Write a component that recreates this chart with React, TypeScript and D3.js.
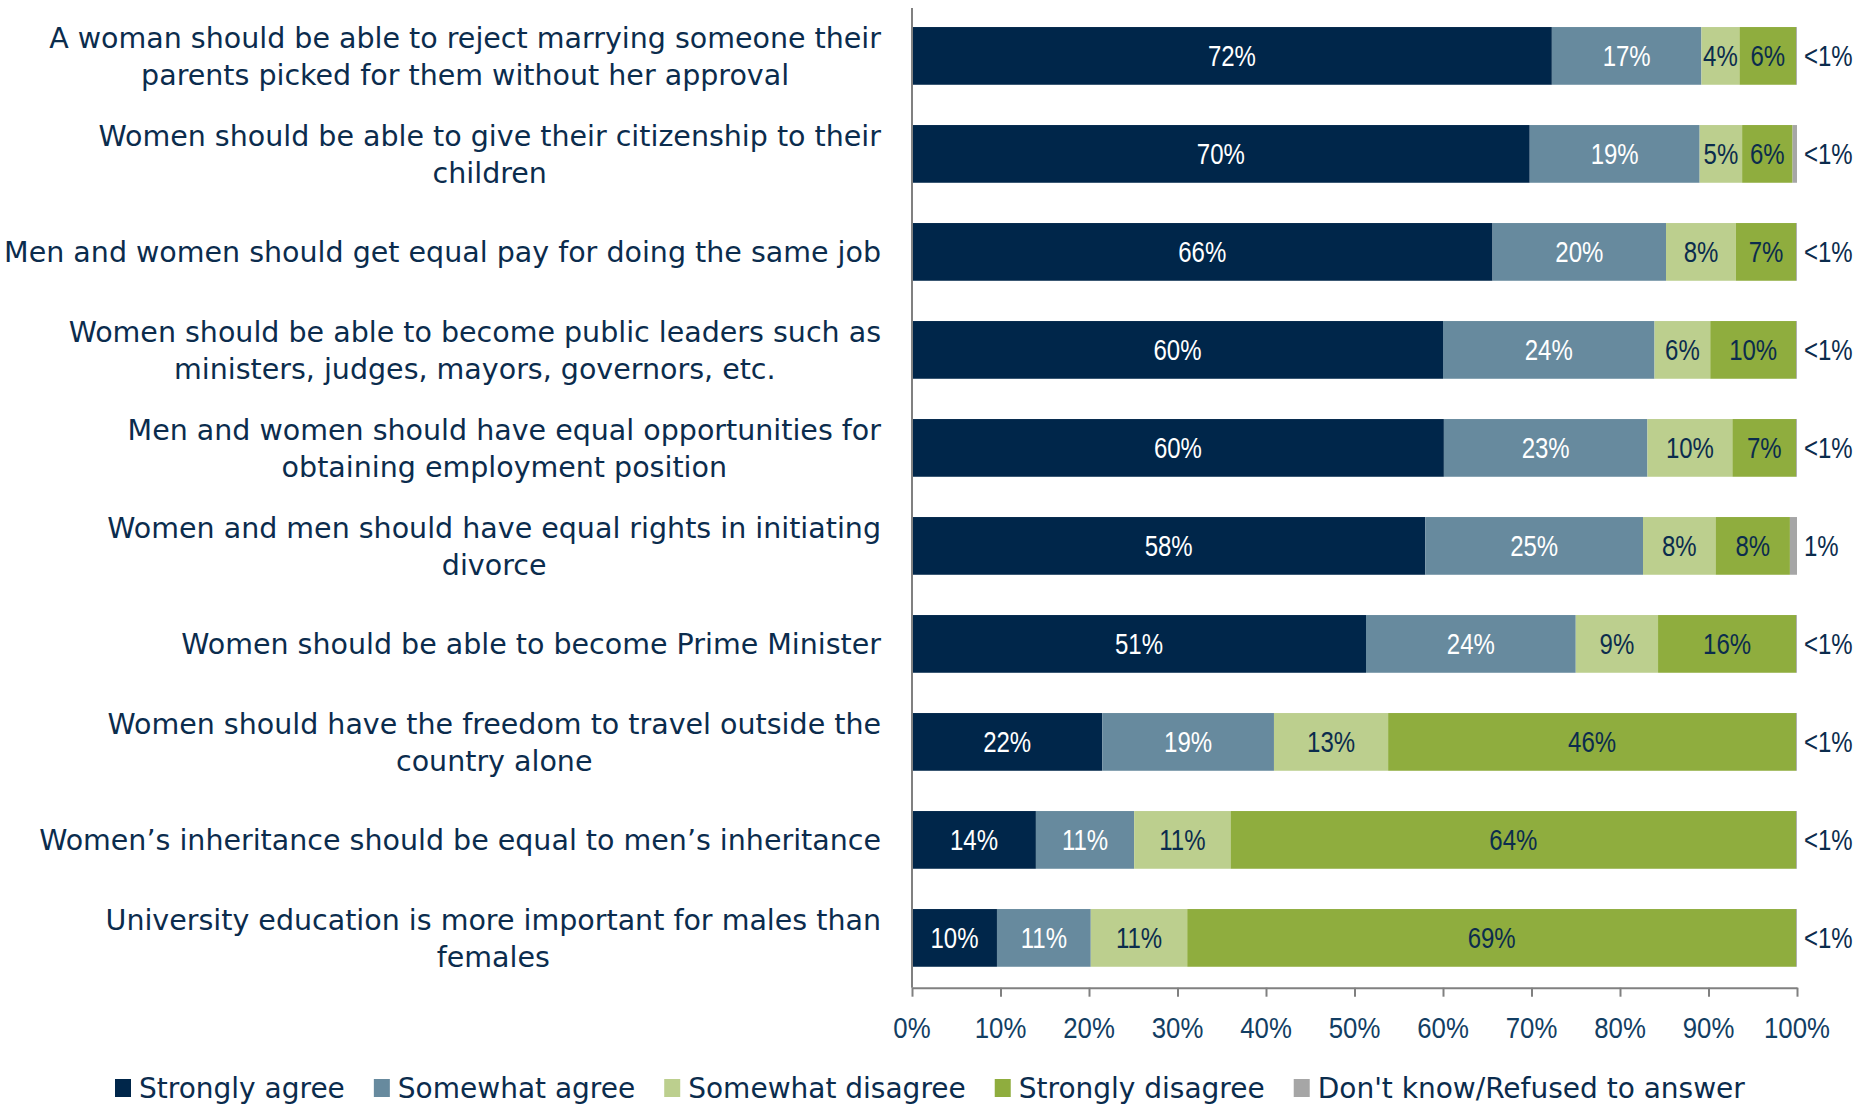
import React, { useEffect, useRef } from "react";
import * as d3 from "d3";

const categories: string[][] = [
  ["A woman should be able to reject marrying someone their", "parents picked for them without her approval"],
  ["Women should be able to give their citizenship to their", "children"],
  ["Men and women should get equal pay for doing the same job"],
  ["Women should be able to become public leaders such as", "ministers, judges, mayors, governors, etc."],
  ["Men and women should have equal opportunities for", "obtaining employment position"],
  ["Women and men should have equal rights in initiating", "divorce"],
  ["Women should be able to become Prime Minister"],
  ["Women should have the freedom to travel outside the", "country alone"],
  ["Women\u2019s inheritance should be equal to men\u2019s inheritance"],
  ["University education is more important for males than", "females"],
];

const seriesNames = ["Strongly agree", "Somewhat agree", "Somewhat disagree", "Strongly disagree", "Don't know/Refused to answer"];
const seriesColors = ["#00264a", "#678a9e", "#bccf8e", "#8fad3e", "#a6a6a6"];
const labelColors = ["#ffffff", "#ffffff", "#0b2c4d", "#0b2c4d"];

const stronglyAgree = [72.3, 69.8, 65.6, 60.0, 60.1, 58.0, 51.3, 21.5, 14.0, 9.6];
const somewhatAgree = [16.9, 19.2, 19.6, 23.9, 23.0, 24.6, 23.7, 19.4, 11.1, 10.6];
const somewhatDisagree = [4.3, 4.8, 7.9, 6.3, 9.6, 8.2, 9.3, 12.9, 10.9, 10.9];
const stronglyDisagree = [6.4, 5.7, 6.8, 9.7, 7.2, 8.4, 15.6, 46.1, 63.9, 68.8];
const dontKnow = [0.1, 0.5, 0.1, 0.1, 0.1, 0.8, 0.1, 0.1, 0.1, 0.1];
const dontKnowLabels = ["<1%", "<1%", "<1%", "<1%", "<1%", "1%", "<1%", "<1%", "<1%", "<1%"];

const xTicks = [0, 10, 20, 30, 40, 50, 60, 70, 80, 90, 100];

const TEXT = "#0b2c4d";
const LABEL_FONT = "'DejaVu Sans', sans-serif";
const NUM_FONT = "'Liberation Sans', Arial, sans-serif";

export default function App() {
  const ref = useRef<SVGSVGElement>(null);

  useEffect(() => {
    const svg = d3.select(ref.current);
    svg.selectAll("*").remove();

    const series = [stronglyAgree, somewhatAgree, somewhatDisagree, stronglyDisagree, dontKnow];
    const n = categories.length;
    const x = d3.scaleLinear().domain([0, 100]).range([912, 1797]);
    const y = d3.scaleBand<number>().domain(d3.range(n)).range([6.9, 986.9]).paddingInner(0.411).paddingOuter(0.2055);

    const numText = (parent: any, px: number, py: number, anchor: string, fill: string, txt: string, sx: number) =>
      parent.append("text")
        .attr("transform", `translate(${px},${py}) scale(${sx},1)`)
        .attr("text-anchor", anchor)
        .attr("dominant-baseline", "central")
        .attr("font-family", NUM_FONT)
        .attr("font-size", 30)
        .attr("fill", fill)
        .text(txt);

    const rows = d3.range(n).map((i) => {
      let acc = 0;
      return series.map((s, k) => {
        const seg = { k, x0: acc, x1: acc + s[i], v: s[i] };
        acc += s[i];
        return seg;
      });
    });

    const g = svg.append("g");
    rows.forEach((segs, i) => {
      const cy = y(i)! + y.bandwidth() / 2;
      segs.forEach((seg) => {
        g.append("rect")
          .attr("x", x(seg.x0))
          .attr("y", y(i)!)
          .attr("width", Math.max(0, x(seg.x1) - x(seg.x0)))
          .attr("height", y.bandwidth())
          .attr("fill", seriesColors[seg.k]);
      });
      segs.forEach((seg) => {
        if (seg.k < 4) {
          numText(g, (x(seg.x0) + x(seg.x1)) / 2, cy, "middle", labelColors[seg.k], Math.round(seg.v) + "%", 0.8);
        }
      });
      numText(g, x(100) + 7, cy, "start", TEXT, dontKnowLabels[i], 0.8);
    });

    svg.append("line")
      .attr("x1", x(0)).attr("x2", x(0))
      .attr("y1", 8).attr("y2", 987.7)
      .attr("stroke", "#808080").attr("stroke-width", 2);

    const axis = d3.axisBottom(x).tickValues(xTicks).tickSize(9).tickSizeOuter(0).tickFormat(() => "");
    const ag = svg.append("g").attr("transform", "translate(0,987.7)").call(axis);
    ag.select(".domain").attr("stroke", "#808080").attr("stroke-width", 2);
    ag.selectAll(".tick line").attr("stroke", "#808080").attr("stroke-width", 2);
    xTicks.forEach((t) => numText(svg, x(t), 1028, "middle", "#123e63", t + "%", 0.86));

    const lg = svg.append("g");
    categories.forEach((lines, i) => {
      const cy = y(i)! + y.bandwidth() / 2 + 1;
      const texts = lines.map((line, j) =>
        lg.append("text")
          .attr("font-family", LABEL_FONT)
          .attr("font-size", 28.5)
          .attr("fill", TEXT)
          .attr("dominant-baseline", "central")
          .attr("text-anchor", "middle")
          .attr("y", cy + (j - (lines.length - 1) / 2) * 37)
          .text(line)
      );
      const widths = texts.map((t) => (t.node() as SVGTextElement).getComputedTextLength());
      const maxW = d3.max(widths) || 0;
      const center = 881 - maxW / 2;
      texts.forEach((t) => t.attr("x", center));
    });

    const leg = svg.append("g");
    let lx = 115;
    seriesNames.forEach((name, k) => {
      leg.append("rect")
        .attr("x", lx).attr("y", 1079).attr("width", 16).attr("height", 18)
        .attr("fill", seriesColors[k]);
      const t = leg.append("text")
        .attr("x", lx + 24).attr("y", 1098)
        .attr("font-family", LABEL_FONT)
        .attr("font-size", 28)
        .attr("fill", TEXT)
        .text(name);
      const w = (t.node() as SVGTextElement).getComputedTextLength();
      lx = lx + 24 + w + 29;
    });
  }, []);

  return (
    <svg
      ref={ref}
      width={1862}
      height={1107}
      style={{ position: "absolute", left: 0, top: 0, display: "block", background: "#fff" }}
    />
  );
}
